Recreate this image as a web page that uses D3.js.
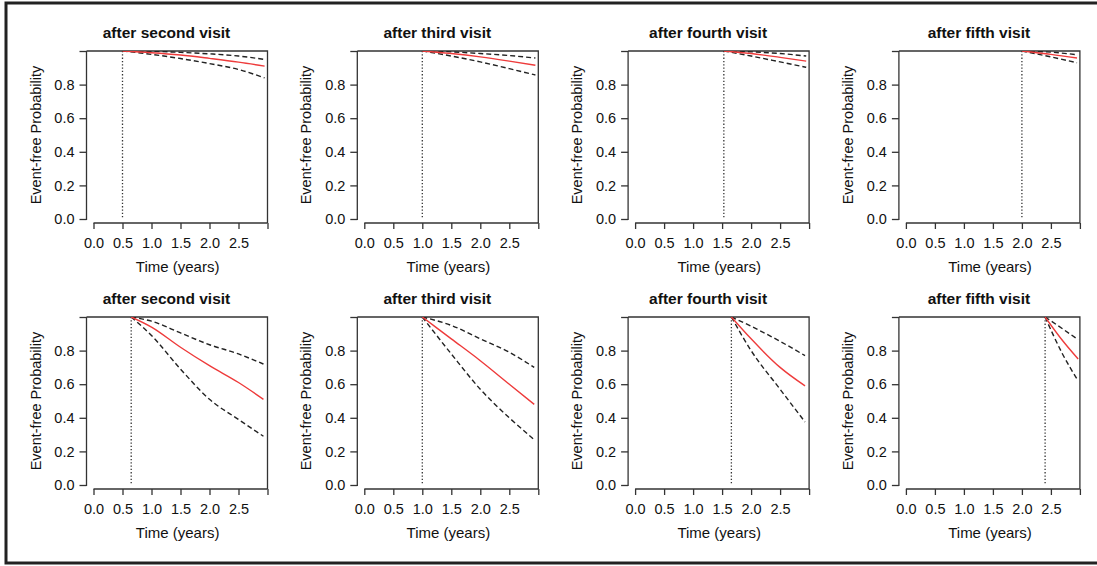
<!DOCTYPE html>
<html><head><meta charset="utf-8">
<script src="https://cdn.jsdelivr.net/npm/d3@7"></script>
<style>
html,body{margin:0;padding:0;background:#fff;overflow:hidden;}
svg text{font-family:"Liberation Sans",Arial,sans-serif;fill:#111;}
</style></head>
<body><svg id="c" width="1097" height="566"></svg>
<script>
// ---- data ----
const titles = ["after second visit","after third visit","after fourth visit","after fifth visit"];
const xTickLabels = ["0.0","0.5","1.0","1.5","2.0","2.5"];
const xTicks = [0,0.5,1,1.5,2,2.5,3];
const yTickLabels = ["0.0","0.2","0.4","0.6","0.8"];
const yTicks = [0,0.2,0.4,0.6,0.8,1.0];
// top row landmarks and curves
const topLandmarks = [0.5, 1.0, 1.53, 2.0];
const topTimes = [[0.5,1.0,1.5,2.0,2.5,2.95],[1.0,1.5,2.0,2.5,2.95],[1.53,2.0,2.5,2.95],[2.0,2.5,2.95]];
const topEst   = [[1.0,0.99,0.976,0.956,0.934,0.91],[1.0,0.985,0.965,0.94,0.915],[1.0,0.985,0.962,0.94],[1.0,0.98,0.958]];
const topUpper = [[1.0,0.998,0.992,0.983,0.97,0.95],[1.0,0.995,0.985,0.973,0.958],[1.0,0.995,0.985,0.97],[1.0,0.993,0.978]];
const topLower = [[1.0,0.98,0.955,0.925,0.89,0.84],[1.0,0.97,0.935,0.895,0.857],[1.0,0.97,0.935,0.903],[1.0,0.965,0.93]];
// bottom row landmarks and curves
const botLandmarks = [0.65, 1.0, 1.66, 2.4];
const botTimes = [[0.65,1.0,1.5,2.0,2.5,2.93],[1.0,1.5,2.0,2.5,2.93],[1.66,2.0,2.5,2.93],[2.4,2.7,2.97]];
const botEst   = [[1.0,0.94,0.82,0.71,0.61,0.51],[1.0,0.87,0.74,0.60,0.48],[1.0,0.87,0.70,0.59],[1.0,0.86,0.75]];
const botUpper = [[1.0,0.975,0.905,0.835,0.78,0.72],[1.0,0.95,0.87,0.79,0.70],[1.0,0.945,0.855,0.77],[1.0,0.93,0.865]];
const botLower = [[1.0,0.89,0.69,0.51,0.39,0.29],[1.0,0.78,0.57,0.40,0.27],[1.0,0.80,0.57,0.375],[1.0,0.78,0.62]];

const svg = d3.select("#c");
// outer frame
svg.append("rect").attr("x",6).attr("y",3).attr("width",1100).attr("height",560)
  .attr("fill","none").attr("stroke","#222").attr("stroke-width",3);

const rows = [
  {T:51, lm:topLandmarks, times:topTimes, est:topEst, up:topUpper, lo:topLower},
  {T:317, lm:botLandmarks, times:botTimes, est:botEst, up:botUpper, lo:botLower}
];
const H = 168;
rows.forEach((row, r) => {
  for (let i = 0; i < 4; i++) {
    const ax = 86.5 + i*270.8;
    const T = row.T;
    const x = d3.scaleLinear().domain([0,3]).range([ax+7, ax+181]);
    const y = d3.scaleLinear().domain([0,1]).range([T+H, T]);
    const g = svg.append("g");
    const clipId = "clip"+r+"_"+i;
    g.append("clipPath").attr("id",clipId).append("rect")
      .attr("x",ax).attr("y",T).attr("width",181).attr("height",H);
    // title
    g.append("text").attr("x",ax+80).attr("y",T-13).attr("text-anchor","middle")
      .style("font-weight","bold").style("font-size","15.5px").text(titles[i]);
    // y axis
    const yAxis = d3.axisLeft(y).tickValues(yTicks).tickSize(7).tickPadding(5)
      .tickFormat((d,k)=> k < yTickLabels.length ? yTickLabels[k] : "");
    const ya = g.append("g").attr("transform",`translate(${ax},0)`).call(yAxis);
    ya.select(".domain").attr("d",`M0,${T}V${T+H+1}`);
    // x axis
    const xAxis = d3.axisBottom(x).tickValues(xTicks).tickSize(6).tickPadding(9)
      .tickFormat((d,k)=> k < xTickLabels.length ? xTickLabels[k] : "");
    const xa = g.append("g").attr("transform",`translate(0,${T+H+4})`).call(xAxis);
    xa.select(".domain").attr("d",`M${x(0)},0H${x(3)}`);
    [ya, xa].forEach(a=>{
      a.selectAll("line,path").attr("stroke","#333").attr("stroke-width",1.3);
      a.selectAll("text").style("font-size","14.5px").attr("fill","#111");
    });
    // top and right frame lines
    g.append("path").attr("d",`M${ax},${T}H${x(3)}V${T+H+4}`)
      .attr("fill","none").attr("stroke","#333").attr("stroke-width",1.3);
    // axis labels
    g.append("text").attr("x",x(1.45)).attr("y",T+H+53).attr("text-anchor","middle")
      .style("font-size","15px").text("Time (years)");
    g.append("text").attr("transform",`translate(${ax-46},${T+H/2}) rotate(-90)`)
      .attr("text-anchor","middle").style("font-size","14.5px").text("Event-free Probability");
    // landmark dotted line
    g.append("line").attr("x1",x(row.lm[i])).attr("x2",x(row.lm[i]))
      .attr("y1",y(1)).attr("y2",y(0))
      .attr("stroke","#333").attr("stroke-width",1.3).attr("stroke-dasharray","1.3,2");
    const line = d3.line().curve(d3.curveMonotoneX).x(d=>x(d[0])).y(d=>y(d[1]));
    const pts = arr => row.times[i].map((t,k)=>[t, arr[i][k]]);
    const cg = g.append("g").attr("clip-path",`url(#${clipId})`);
    cg.append("path").datum(pts(row.up)).attr("d",line).attr("fill","none")
      .attr("stroke","#222").attr("stroke-width",1.4).attr("stroke-dasharray","5,3");
    cg.append("path").datum(pts(row.lo)).attr("d",line).attr("fill","none")
      .attr("stroke","#222").attr("stroke-width",1.4).attr("stroke-dasharray","5,3");
    cg.append("path").datum(pts(row.est)).attr("d",line).attr("fill","none")
      .attr("stroke","#ee3b3b").attr("stroke-width",1.4);
  }
});
</script></body></html>
